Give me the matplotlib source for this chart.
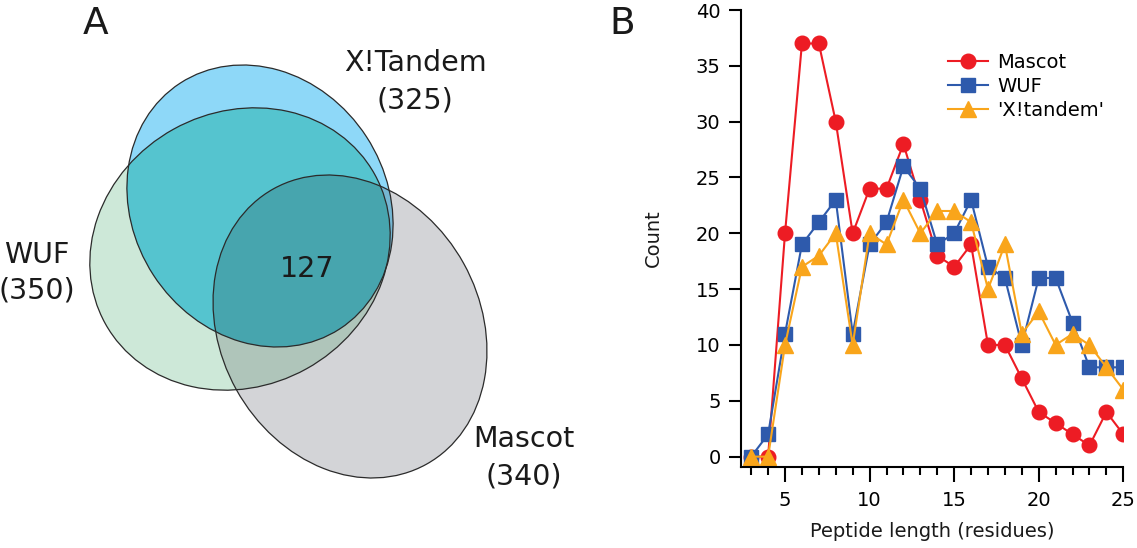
import numpy as np
import matplotlib
matplotlib.use('Agg')
import matplotlib.pyplot as plt
from matplotlib.patches import Polygon, Ellipse

# panel B data: peptide length distribution
lengths = list(range(3, 26))
mascot = [0, 0, 20, 37, 37, 30, 20, 24, 24, 28, 23, 18, 17, 19, 10, 10, 7, 4, 3, 2, 1, 4, 2]
wuf = [0, 2, 11, 19, 21, 23, 11, 19, 21, 26, 24, 19, 20, 23, 17, 16, 10, 16, 16, 12, 8, 8, 8]
xtandem = [0, 0, 10, 17, 18, 20, 10, 20, 19, 23, 20, 22, 22, 21, 15, 19, 11, 13, 10, 11, 10, 8, 6]

# panel A data: venn counts
venn_names = ['WUF', 'X!Tandem', 'Mascot']
venn_totals = [350, 325, 340]
venn_common = 127

plt.rcParams['font.family'] = 'DejaVu Sans'
txt = '#1a1a1a'

fig = plt.figure(figsize=(11.37, 5.48), dpi=100)

# ---------- panel A (venn), drawn in pixel-like coords ----------
va = fig.add_axes([0, 0, 1, 1])
va.set_xlim(0, 1137)
va.set_ylim(0, 548)
va.axis('off')

# ellipse shapes: centre x, centre y, width, height, angle
shapes = {
    'WUF': (240, 299, 308, 274, 29),
    'X!Tandem': (260, 342, 293, 254, -57),
    'Mascot': (350, 221.5, 315, 260, -61),
}


def ell_pts(cx, cy, w, h, ang, n=300):
    t = np.linspace(0, 2 * np.pi, n, endpoint=False)
    th = np.radians(ang)
    x = cx + w / 2 * np.cos(t) * np.cos(th) - h / 2 * np.sin(t) * np.sin(th)
    y = cy + w / 2 * np.cos(t) * np.sin(th) + h / 2 * np.sin(t) * np.cos(th)
    return list(zip(x, y))


def inside(p, a, b):
    return (b[0] - a[0]) * (p[1] - a[1]) - (b[1] - a[1]) * (p[0] - a[0]) >= 0


def cross_pt(s, e, a, b):
    dx1, dy1 = e[0] - s[0], e[1] - s[1]
    dx2, dy2 = b[0] - a[0], b[1] - a[1]
    den = dx1 * dy2 - dy1 * dx2
    u = ((a[0] - s[0]) * dy2 - (a[1] - s[1]) * dx2) / den
    return (s[0] + u * dx1, s[1] + u * dy1)


def clip(subj, clipper):
    # sutherland-hodgman, ellipses are convex so this is enough
    out = list(subj)
    for i in range(len(clipper)):
        a, b = clipper[i], clipper[(i + 1) % len(clipper)]
        inp, out = out, []
        if not inp:
            break
        s = inp[-1]
        for e in inp:
            if inside(e, a, b):
                if not inside(s, a, b):
                    out.append(cross_pt(s, e, a, b))
                out.append(e)
            elif inside(s, a, b):
                out.append(cross_pt(s, e, a, b))
            s = e
    return out


P = {k: ell_pts(*v) for k, v in shapes.items()}
fills = [
    (P['Mascot'], '#d3d4d7'),
    (P['WUF'], '#cde8d8'),
    (P['X!Tandem'], '#8ed8f8'),
    (clip(P['WUF'], P['Mascot']), '#afc5ba'),
    (clip(P['X!Tandem'], P['Mascot']), '#75b6d2'),
    (clip(P['WUF'], P['X!Tandem']), '#55c4cf'),
    (clip(clip(P['WUF'], P['X!Tandem']), P['Mascot']), '#47a5ae'),
]
for pts, c in fills:
    if len(pts) > 2:
        va.add_patch(Polygon(pts, closed=True, facecolor=c, edgecolor='none'))
for k, (cx, cy, w, h, ang) in shapes.items():
    va.add_patch(Ellipse((cx, cy), w, h, angle=ang, facecolor='none',
                         edgecolor='#2b2b2b', lw=0.9))

# labels
lab_pos = {'WUF': (37, 285, 250), 'X!Tandem': (415, 477, 440), 'Mascot': (524, 101, 63)}
for name, tot in zip(venn_names, venn_totals):
    x, y1, y2 = lab_pos[name]
    va.text(x, y1, name, ha='center', va='baseline', fontsize=20.5, color=txt)
    va.text(x, y2, '(%d)' % tot, ha='center', va='baseline', fontsize=20.5, color=txt)
va.text(307, 271, str(venn_common), ha='center', va='baseline', fontsize=20.5, color=txt)

va.text(95.5, 514.5, 'A', ha='center', va='baseline', fontsize=27, color=txt)
va.text(622.5, 514.5, 'B', ha='center', va='baseline', fontsize=27, color=txt)

# ---------- panel B (line chart) ----------
ax = fig.add_axes([740.7 / 1137, 81.3 / 548, 382.6 / 1137, 456.7 / 548])
ax.patch.set_alpha(0)
ax.plot(lengths, mascot, color='#ed1c24', lw=1.5, marker='o', ms=10.5, label='Mascot')
ax.plot(lengths, wuf, color='#2e5aac', lw=1.5, marker='s', ms=9.5, label='WUF')
ax.plot(lengths, xtandem, color='#f9a51b', lw=1.5, marker='^', ms=11, label="'X!tandem'")

ax.set_xlim(2.38, 25)
ax.set_ylim(-0.9, 40)
ax.set_xticks([5, 10, 15, 20, 25])
ax.set_xticks(lengths, minor=True)
ax.set_yticks(range(0, 41, 5))
for s in ['top', 'right']:
    ax.spines[s].set_visible(False)
for s in ['left', 'bottom']:
    ax.spines[s].set_linewidth(1.5)
ax.tick_params(axis='both', which='major', width=1.5, labelsize=14, colors='black')
ax.tick_params(axis='x', which='major', length=10.5, pad=7)
ax.tick_params(axis='x', which='minor', length=5.5, width=1.5)
ax.tick_params(axis='y', which='major', length=8.5, pad=6)

ax.set_xlabel('Peptide length (residues)', fontsize=14, color=txt)
ax.set_ylabel('Count', fontsize=14, color=txt)
ax.xaxis.set_label_coords(0.5, -0.122)
ax.yaxis.set_label_coords(-0.203, 0.5)

ax.legend(loc='upper left', bbox_to_anchor=(948 / 1137, 495 / 548),
          bbox_transform=fig.transFigure, frameon=False, fontsize=14,
          handlelength=2.05, handletextpad=0.5, labelspacing=0.25,
          borderpad=0, borderaxespad=0)

fig.savefig('out.png', dpi=100)
